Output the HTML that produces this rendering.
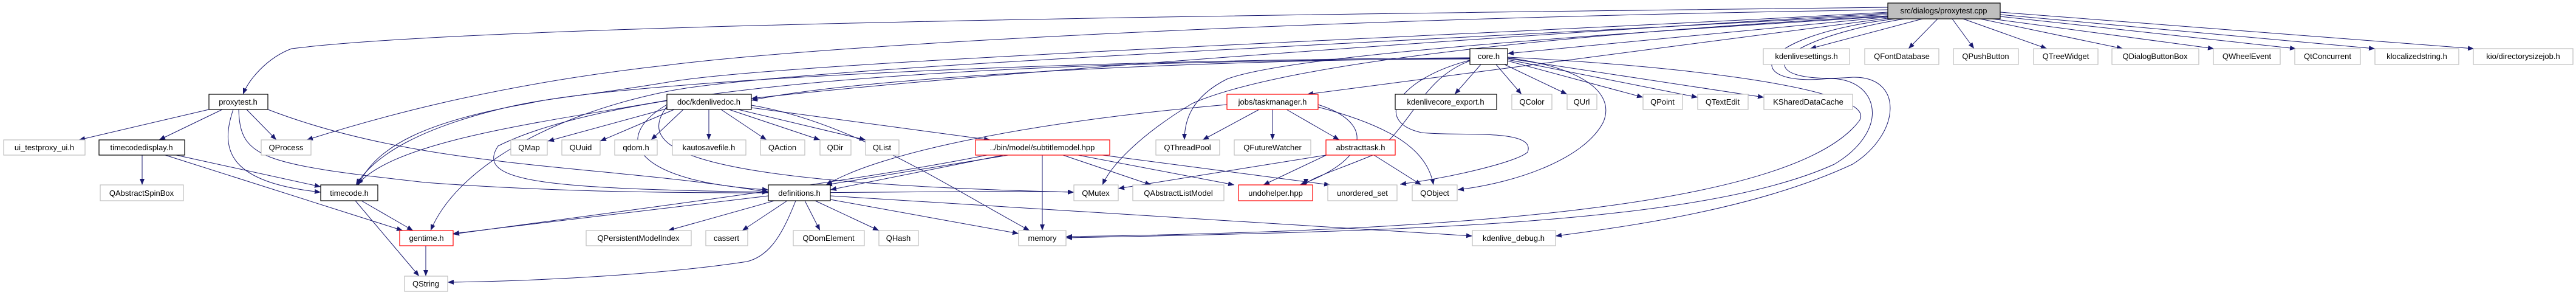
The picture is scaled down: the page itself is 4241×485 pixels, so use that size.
<!DOCTYPE html>
<html><head><meta charset="utf-8"><style>
html,body{margin:0;padding:0;background:#fff;width:4241px;height:485px;overflow:hidden}
svg text{font-family:"Liberation Sans",sans-serif;font-size:13px;fill:#000}
</style></head><body>
<svg width="4241" height="485" viewBox="0 0 4241 485" xmlns="http://www.w3.org/2000/svg">
<defs><marker id="a" markerUnits="userSpaceOnUse" markerWidth="10" markerHeight="8" refX="10" refY="4" orient="auto"><path d="M0,0 L10,4 L0,8 z" fill="#191970"/></marker></defs>
<g fill="none" stroke="#191970" stroke-width="1" marker-end="url(#a)">
<path d="M3108,12 C2000,25 800,40 480,80 C440,95 410,130 400,155"/>
<path d="M3108,16 C2200,30 1400,70 1100,107 C800,140 600,200 505,230"/>
<path d="M3108,28 L2482,88"/>
<path d="M3108,22 C2600,50 1600,120 1237,162"/>
<path d="M3108,20 C2400,60 1300,100 1100,135 C950,160 900,160 820,180 C700,210 620,250 586,304"/>
<path d="M3108,24 C2300,70 1300,110 1100,150 C900,190 750,280 709,379"/>
<path d="M3108,26 C2500,60 2100,110 1963,170 C1880,220 1830,270 1815,304"/>
<path d="M3108,27 C2400,70 2100,100 2020,130 C1960,160 1950,200 1950,230"/>
<path d="M3108,30 L2152,155"/>
<path d="M3120,31 C2880,60 2870,140 3000,130 C3090,120 3120,210 3020,270 C2800,370 2300,380 1755,391"/>
<path d="M3135,31 C2900,70 2880,140 3050,127 C3135,125 3130,220 3050,270 C2900,340 2700,370 2561,388"/>
<path d="M3165,31 L2980,80"/><path d="M3190,31 L3142,80"/><path d="M3214,31 L3250,80"/>
<path d="M3232,31 L3370,80"/><path d="M3260,31 L3495,80"/><path d="M3280,31 L3645,80"/>
<path d="M3293,27 L3780,80"/><path d="M3293,24 L3910,80"/><path d="M3293,20 L4073,80"/>
<path d="M2438,106 L2395,155"/><path d="M2463,106 L2505,155"/><path d="M2477,106 L2580,155"/>
<path d="M2482,100 L2705,160"/><path d="M2482,98 L2795,160"/><path d="M2482,96 L2904,160"/>
<path d="M2420,96 C1900,100 1400,130 1237,165"/>
<path d="M2420,97 C1500,100 1000,150 820,240 C780,300 900,310 1265,316"/>
<path d="M2420,95 C1600,100 1000,140 870,170 C700,200 620,240 590,304"/>
<path d="M2482,95 C2600,110 2660,150 2640,200 C2610,260 2500,300 2400,312"/>
<path d="M2420,99 C2300,130 2260,200 2340,218 C2400,225 2530,210 2515,250 C2500,265 2400,290 2305,303"/>
<path d="M2420,100 C2340,130 2330,200 2260,255 C2200,280 2150,295 2150,304"/>
<path d="M2482,94 C2800,110 3100,150 3060,200 C2950,340 2400,380 1755,389"/>
<path d="M1100,178 L902,232"/><path d="M1110,180 L988,232"/><path d="M1125,180 L1072,230"/>
<path d="M1167,180 L1167,230"/><path d="M1187,180 L1262,230"/><path d="M1200,180 L1350,230"/>
<path d="M1215,180 L1425,230"/><path d="M1237,177 L1630,230"/>
<path d="M1237,173 C1400,200 1550,300 1695,379"/>
<path d="M1098,165 C900,200 650,230 588,304"/>
<path d="M1098,172 C1000,230 1050,300 1265,312"/>
<path d="M1098,175 C1050,240 1100,300 1768,316"/>
<path d="M344,180 L130,230"/><path d="M366,180 L262,230"/><path d="M406,180 L455,230"/>
<path d="M384,180 C360,250 380,300 528,316"/>
<path d="M441,180 C700,280 1000,270 1265,316"/>
<path d="M393,180 C395,260 430,270 700,300 C1100,330 1500,310 1768,316"/>
<path d="M234,255 L234,304"/><path d="M290,255 L528,307"/><path d="M272,255 L663,379"/>
<path d="M595,330 L680,379"/><path d="M585,330 L690,454"/><path d="M701,404 L701,454"/>
<path d="M1265,322 L746,384"/><path d="M1275,330 L1100,379"/><path d="M1296,330 L1222,379"/>
<path d="M1325,330 L1350,379"/><path d="M1342,330 L1447,379"/><path d="M1367,328 L1677,384"/>
<path d="M1367,322 L2424,388"/>
<path d="M1310,330 C1290,380 1270,420 1230,430 C1100,450 900,462 737,464"/>
<path d="M1652,255 L1367,312"/><path d="M1660,255 L1360,304"/><path d="M1716,255 L1716,379"/>
<path d="M1750,255 L1895,304"/><path d="M1775,255 L2032,304"/><path d="M1815,255 L2190,304"/>
<path d="M1625,255 C1400,300 1000,350 746,385"/>
<path d="M2020,172 C1700,200 1450,250 1360,304"/>
<path d="M2073,180 L1980,230"/><path d="M2095,180 L2095,230"/><path d="M2118,180 L2205,230"/>
<path d="M2170,172 C2260,200 2260,260 2140,304"/>
<path d="M2170,176 C2300,210 2350,250 2360,304"/>
<path d="M2183,255 L1841,310"/><path d="M2262,255 L2340,304"/><path d="M2190,252 L2080,304"/>
</g>
<g stroke-width="1.2">
<rect x="3108" y="5" width="185" height="26" fill="#bfbfbf" stroke="#000"/>
<g fill="#fff" stroke="#000">
<rect x="2420" y="80" width="62" height="26"/><rect x="344" y="155" width="97" height="25"/>
<rect x="1098" y="155" width="139" height="25"/><rect x="2297" y="155" width="167" height="25"/>
<rect x="163" y="230" width="141" height="25"/><rect x="528" y="304" width="94" height="26"/>
<rect x="1265" y="304" width="102" height="26"/>
</g>
<g fill="#fff" stroke="#ff0000">
<rect x="2020" y="155" width="150" height="25"/><rect x="1606" y="230" width="221" height="25"/>
<rect x="2183" y="230" width="114" height="25"/><rect x="2039" y="304" width="122" height="26"/>
<rect x="658" y="379" width="88" height="25"/>
</g>
<g fill="#fff" stroke="#bfbfbf">
<rect x="2903" y="80" width="142" height="26"/><rect x="3070" y="80" width="122" height="26"/>
<rect x="3216" y="80" width="107" height="26"/><rect x="3348" y="80" width="106" height="26"/>
<rect x="3477" y="80" width="143" height="26"/><rect x="3644" y="80" width="110" height="26"/>
<rect x="3778" y="80" width="108" height="26"/><rect x="3910" y="80" width="138" height="26"/>
<rect x="4072" y="80" width="164" height="26"/>
<rect x="2489" y="155" width="66" height="25"/><rect x="2580" y="155" width="49" height="25"/>
<rect x="2705" y="155" width="65" height="25"/><rect x="2795" y="155" width="83" height="25"/>
<rect x="2904" y="155" width="146" height="25"/>
<rect x="6" y="230" width="134" height="25"/><rect x="430" y="230" width="82" height="25"/>
<rect x="841" y="230" width="60" height="25"/><rect x="925" y="230" width="63" height="25"/>
<rect x="1012" y="230" width="70" height="25"/><rect x="1107" y="230" width="121" height="25"/>
<rect x="1252" y="230" width="73" height="25"/><rect x="1350" y="230" width="51" height="25"/>
<rect x="1425" y="230" width="55" height="25"/><rect x="1903" y="230" width="105" height="25"/>
<rect x="2032" y="230" width="126" height="25"/>
<rect x="165" y="304" width="137" height="26"/><rect x="1768" y="304" width="73" height="26"/>
<rect x="1865" y="304" width="150" height="26"/><rect x="2186" y="304" width="114" height="26"/>
<rect x="2325" y="304" width="74" height="26"/>
<rect x="965" y="379" width="173" height="25"/><rect x="1162" y="379" width="69" height="25"/>
<rect x="1306" y="379" width="117" height="25"/><rect x="1447" y="379" width="65" height="25"/>
<rect x="1677" y="379" width="78" height="25"/><rect x="2424" y="379" width="137" height="25"/>
<rect x="666" y="454" width="71" height="25"/>
</g></g>
<g text-anchor="middle">
<text x="3200" y="22">src/dialogs/proxytest.cpp</text>
<text x="2451" y="97">core.h</text><text x="2974" y="97">kdenlivesettings.h</text>
<text x="3131" y="97">QFontDatabase</text><text x="3269" y="97">QPushButton</text>
<text x="3401" y="97">QTreeWidget</text><text x="3548" y="97">QDialogButtonBox</text>
<text x="3699" y="97">QWheelEvent</text><text x="3832" y="97">QtConcurrent</text>
<text x="3979" y="97">klocalizedstring.h</text><text x="4154" y="97">kio/directorysizejob.h</text>
<text x="392" y="172">proxytest.h</text><text x="1167" y="172">doc/kdenlivedoc.h</text>
<text x="2095" y="172">jobs/taskmanager.h</text><text x="2380" y="172">kdenlivecore_export.h</text>
<text x="2522" y="172">QColor</text><text x="2604" y="172">QUrl</text><text x="2737" y="172">QPoint</text>
<text x="2836" y="172">QTextEdit</text><text x="2977" y="172">KSharedDataCache</text>
<text x="73" y="247">ui_testproxy_ui.h</text><text x="233" y="247">timecodedisplay.h</text>
<text x="471" y="247">QProcess</text><text x="871" y="247">QMap</text><text x="956" y="247">QUuid</text>
<text x="1047" y="247">qdom.h</text><text x="1167" y="247">kautosavefile.h</text>
<text x="1288" y="247">QAction</text><text x="1375" y="247">QDir</text><text x="1452" y="247">QList</text>
<text x="1716" y="247">../bin/model/subtitlemodel.hpp</text><text x="1955" y="247">QThreadPool</text>
<text x="2095" y="247">QFutureWatcher</text><text x="2240" y="247">abstracttask.h</text>
<text x="233" y="322">QAbstractSpinBox</text><text x="575" y="322">timecode.h</text>
<text x="1316" y="322">definitions.h</text><text x="1804" y="322">QMutex</text>
<text x="1940" y="322">QAbstractListModel</text><text x="2100" y="322">undohelper.hpp</text>
<text x="2243" y="322">unordered_set</text><text x="2362" y="322">QObject</text>
<text x="702" y="396">gentime.h</text><text x="1051" y="396">QPersistentModelIndex</text>
<text x="1196" y="396">cassert</text><text x="1364" y="396">QDomElement</text>
<text x="1479" y="396">QHash</text><text x="1716" y="396">memory</text>
<text x="2492" y="396">kdenlive_debug.h</text><text x="701" y="471">QString</text>
</g>
</svg>
</body></html>
